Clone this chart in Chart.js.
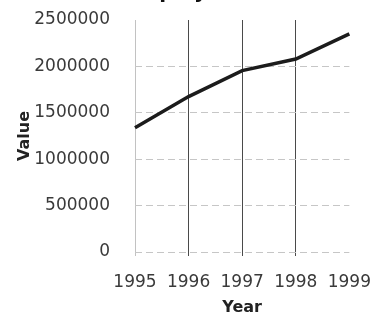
<!DOCTYPE html>
<html>
<head>
<meta charset="utf-8">
<script src="https://cdn.jsdelivr.net/npm/chart.js@4/dist/chart.umd.min.js"></script>
<style>
  html, body { margin: 0; padding: 0; background: #fff; overflow: hidden; }
  #wrap { width: 387px; height: 321px; overflow: hidden; position: relative; }
  #chart { position: absolute; left: 0; top: -30px; }
</style>
</head>
<body>
<div id="wrap"><canvas id="chart" width="387" height="351"></canvas></div>
<script>
// Employee totals per year
const years = ['1995', '1996', '1997', '1998', '1999'];
const employees = [1340000, 1675000, 1955000, 2080000, 2350000];
const valueTicks = [0, 500000, 1000000, 1500000, 2000000, 2500000];

const FONT = "'DejaVu Sans', Verdana, sans-serif";

// vertical grid: faint at the left edge, none at the last year
const xGridColors = ['#c2c2c2', '#4a4a4a', '#4a4a4a', '#4a4a4a', 'rgba(0,0,0,0)'];

new Chart(document.getElementById('chart'), {
  type: 'line',
  data: {
    labels: years,
    datasets: [{
      label: 'Employee',
      data: employees,
      borderColor: '#1c1c1c',
      borderWidth: 3.5,
      pointRadius: 0,
      tension: 0,
      fill: false
    }]
  },
  options: {
    responsive: false,
    animation: false,
    layout: { padding: { left: 0, right: 28, top: 0, bottom: 0 } },
    plugins: {
      legend: { display: false },
      tooltip: { enabled: false },
      title: {
        display: true,
        text: 'Employee',
        color: '#111',
        font: { family: FONT, size: 20, weight: 'bold', lineHeight: 1.2 },
        padding: { top: 11, bottom: 15 }
      }
    },
    scales: {
      x: {
        type: 'category',
        offset: false,
        afterFit: (s) => { s.height = 69; },
        grid: {
          color: (ctx) => xGridColors[ctx.index] || 'rgba(0,0,0,0)',
          lineWidth: 1,
          drawTicks: true,
          tickLength: 4
        },
        border: { display: false },
        ticks: {
          color: '#3a3a3a',
          font: { family: FONT, size: 17, lineHeight: 1.2 },
          padding: 16,
          maxRotation: 0,
          autoSkip: false
        },
        title: {
          display: true,
          text: 'Year',
          color: '#222',
          font: { family: FONT, size: 16, weight: 'bold', lineHeight: 1.2 },
          padding: { top: 0, bottom: 4 }
        }
      },
      y: {
        min: valueTicks[0],
        max: valueTicks[valueTicks.length - 1],
        afterFit: (s) => { s.width = 135; },
        afterBuildTicks: (s) => { s.ticks = valueTicks.map(v => ({ value: v })); },
        grid: {
          color: (ctx) => ctx.tick && ctx.tick.value === valueTicks[valueTicks.length - 1]
            ? 'rgba(0,0,0,0)' : '#c6c6c6',
          lineWidth: 1,
          drawTicks: false
        },
        border: { display: false, dash: [7, 4] },
        ticks: {
          color: '#3a3a3a',
          font: { family: FONT, size: 17, lineHeight: 1.2 },
          padding: 25,
          callback: (v) => String(v)
        },
        title: {
          display: true,
          text: 'Value',
          color: '#222',
          font: { family: FONT, size: 16, weight: 'bold', lineHeight: 1.2 },
          padding: { top: 15, bottom: 0 }
        }
      }
    }
  }
});
</script>
</body>
</html>
